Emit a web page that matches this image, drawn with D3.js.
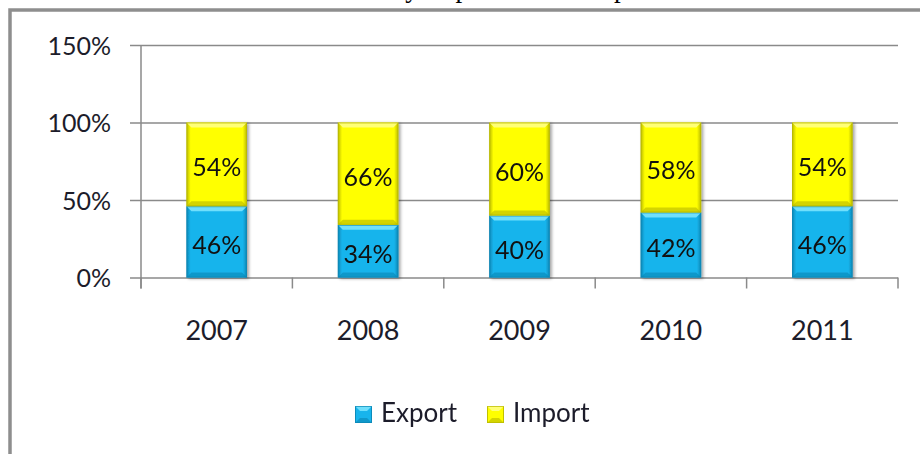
<!DOCTYPE html>
<html>
<head>
<meta charset="utf-8">
<script src="https://cdn.jsdelivr.net/npm/d3@7"></script>
<style>
  body { margin: 0; background: #fff; }
  svg { display: block; }
</style>
</head>
<body>
<div id="viz"></div>
<script>
// data
const years = ['2007', '2008', '2009', '2010', '2011'];
const exportShare = [46, 34, 40, 42, 46];
const importShare = [54, 66, 60, 58, 54];
const yTicks = [0, 50, 100, 150];
const seriesNames = ['Export', 'Import'];

const width = 920;
const height = 454;
const plot = {left: 130, axisX: 141, right: 898, top: 45, bottom: 277.5};
const font = 'Lato, "Open Sans", sans-serif';
const colors = {
  Export: {main: '#18b4ec', light: '#7fe6ff', dark: '#0b86b4'},
  Import: {main: '#ffff00', light: '#ffff8c', dark: '#b8b800'}
};

const svg = d3.select('#viz')
  .append('svg')
    .attr('width', width)
    .attr('height', height);

const defs = svg.append('defs');
seriesNames.forEach(name => {
  const c = colors[name];
  const g = defs.append('linearGradient').attr('id', 'grad-' + name)
    .attr('x1', 0).attr('x2', 1).attr('y1', 0).attr('y2', 0);
  g.append('stop').attr('offset', '0%').attr('stop-color', c.dark);
  g.append('stop').attr('offset', '7%').attr('stop-color', c.main);
  g.append('stop').attr('offset', '93%').attr('stop-color', c.main);
  g.append('stop').attr('offset', '100%').attr('stop-color', c.dark);
});
const shadow = defs.append('filter').attr('id', 'shadow')
  .attr('x', '-20%').attr('y', '-20%').attr('width', '150%').attr('height', '150%');
shadow.append('feDropShadow')
  .attr('dx', 2).attr('dy', 1).attr('stdDeviation', 1.5)
  .attr('flood-color', '#000').attr('flood-opacity', 0.35);

// title, mostly cut off above the frame (as in the source image)
svg.append('text')
  .attr('x', 348)
  .attr('y', -3)
  .attr('font-family', '"Liberation Serif", "Times New Roman", serif')
  .attr('font-size', 27)
  .attr('fill', '#000')
  .text('Yearly Export Versus Import');

// frame
svg.append('rect')
  .attr('x', 10).attr('y', 10)
  .attr('width', 1000).attr('height', 1000)
  .attr('fill', 'none')
  .attr('stroke', '#8e8e8e')
  .attr('stroke-width', 3.5);

const x = d3.scaleBand()
  .domain(years)
  .range([plot.axisX, plot.right])
  .paddingInner(0.6)
  .paddingOuter(0.3);

const y = d3.scaleLinear()
  .domain([0, 150])
  .range([plot.bottom, plot.top]);

// gridlines + y labels
const yAxis = svg.append('g')
  .attr('transform', `translate(${plot.left},0)`)
  .call(d3.axisLeft(y)
    .tickValues(yTicks)
    .tickFormat(d => d + '%')
    .tickSize(-(plot.right - plot.left))
    .tickSizeOuter(0)
    .tickPadding(19));
yAxis.select('.domain').remove();
yAxis.selectAll('line').attr('stroke', '#8a8a8a').attr('stroke-width', 1.5);
yAxis.selectAll('text')
  .attr('font-family', font)
  .attr('font-size', 25)
  .attr('fill', '#1c1c2a')
  .attr('dy', '0.36em');

// vertical axis line
svg.append('line')
  .attr('x1', plot.axisX).attr('x2', plot.axisX)
  .attr('y1', y(150)).attr('y2', y(0) + 11)
  .attr('stroke', '#8a8a8a').attr('stroke-width', 1.5);

// category boundary ticks
const gap = (x.step() - x.bandwidth()) / 2;
const bounds = years.map(d => x(d) - gap).concat([x(years[years.length - 1]) + x.bandwidth() + gap]);
svg.append('g').selectAll('line').data(bounds).join('line')
  .attr('x1', d => d).attr('x2', d => d)
  .attr('y1', y(0)).attr('y2', y(0) + 11)
  .attr('stroke', '#8a8a8a').attr('stroke-width', 1.5);

// year labels
const xAxis = svg.append('g')
  .attr('transform', `translate(0,${y(0)})`)
  .call(d3.axisBottom(x).tickSize(0).tickPadding(62));
xAxis.select('.domain').remove();
xAxis.selectAll('text')
  .attr('font-family', font)
  .attr('font-size', 27)
  .attr('fill', '#1c1c2a')
  .attr('dy', 0);

// stacked segments
const rows = years.map((yr, i) => ({year: yr, Export: exportShare[i], Import: importShare[i]}));
const stack = d3.stack().keys(seriesNames)(rows);

const drawBevel = (g, name, x0, y0, w, h) => {
  const c = colors[name];
  const b = Math.min(5, h / 3);
  g.append('rect')
    .attr('x', x0).attr('y', y0).attr('width', w).attr('height', h)
    .attr('fill', `url(#grad-${name})`);
  // top highlight
  g.append('path')
    .attr('d', `M${x0},${y0}L${x0 + w},${y0}L${x0 + w - b},${y0 + b}L${x0 + b},${y0 + b}Z`)
    .attr('fill', c.light).attr('opacity', 0.85);
  // bottom shade
  g.append('path')
    .attr('d', `M${x0},${y0 + h}L${x0 + w},${y0 + h}L${x0 + w - b},${y0 + h - b}L${x0 + b},${y0 + h - b}Z`)
    .attr('fill', c.dark).attr('opacity', 0.6);
  g.append('rect')
    .attr('x', x0 + 0.5).attr('y', y0 + 0.5).attr('width', w - 1).attr('height', h - 1)
    .attr('fill', 'none').attr('stroke', c.dark).attr('stroke-width', 1).attr('opacity', 0.7);
};

const bars = svg.append('g').attr('filter', 'url(#shadow)');
stack.forEach(layer => {
  layer.forEach(d => {
    const g = bars.append('g');
    drawBevel(g, layer.key, x(d.data.year), y(d[1]), x.bandwidth(), y(d[0]) - y(d[1]));
  });
});

// value labels
stack.forEach(layer => {
  svg.append('g').selectAll('text').data(layer).join('text')
    .attr('x', d => x(d.data.year) + x.bandwidth() / 2)
    .attr('y', d => (y(d[0]) + y(d[1])) / 2 + 3)
    .attr('text-anchor', 'middle')
    .attr('dy', '0.36em')
    .attr('font-family', font)
    .attr('font-size', 25)
    .attr('fill', '#111')
    .text(d => (d[1] - d[0]) + '%');
});

// legend
const legendX = d3.scalePoint().domain(seriesNames).range([355, 487]);
const legend = svg.append('g');
seriesNames.forEach(name => {
  const g = legend.append('g');
  drawBevel(g, name, legendX(name), 406, 17, 17);
  legend.append('text')
    .attr('x', legendX(name) + 26)
    .attr('y', 422)
    .attr('font-family', font)
    .attr('font-size', 26)
    .attr('fill', '#1c1c2a')
    .text(name);
});
</script>
</body>
</html>
